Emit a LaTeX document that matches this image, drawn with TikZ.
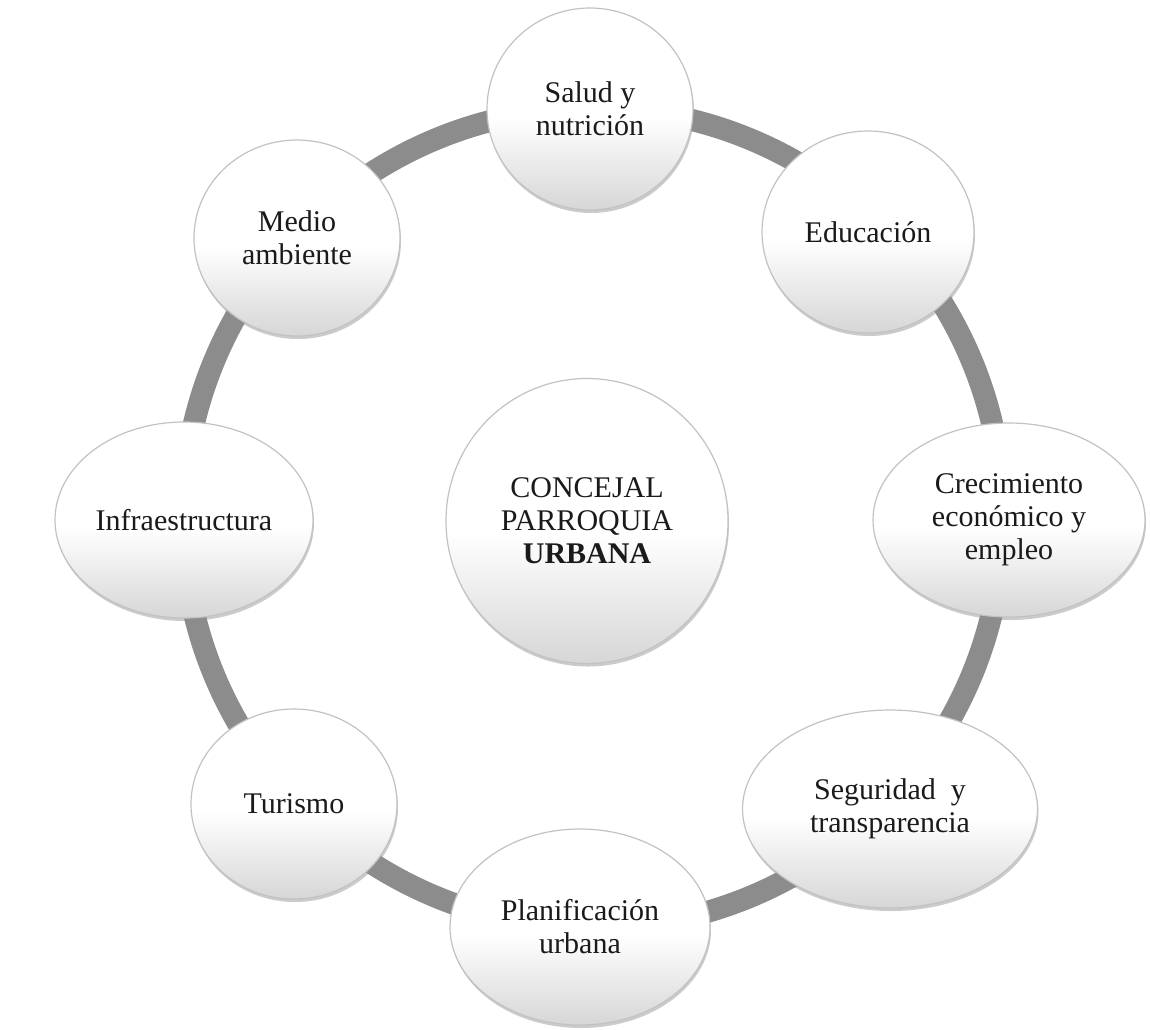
\documentclass[tikz,border=0pt]{standalone}
\usepackage{fontspec}
\setmainfont{Liberation Serif}
\usetikzlibrary{shapes.geometric,shadows}
\definecolor{ringgray}{HTML}{8C8C8C}
\definecolor{txt}{HTML}{1A1A1A}
\pgfdeclareverticalshading{bubshade}{100bp}{color(0bp)=(black!16); color(25bp)=(black!16); color(48bp)=(white); color(100bp)=(white)}
\tikzset{
  ringline/.style={draw=ringgray, line width=22pt},
  bubble/.style={ellipse, inner sep=0pt, align=center, text=txt,
    font=\fontsize{30}{33}\selectfont,
    draw=black!24, line width=1.2pt,
    shading=bubshade,
    drop shadow={shadow xshift=1pt, shadow yshift=-3pt, fill=black!45, opacity=0.45}},
}
\begin{document}
\begin{tikzpicture}[x=1pt,y=-1pt]
\useasboundingbox[fill=white] (0,0) rectangle (1150,1029);
\coordinate (ringc) at (593,518);
\draw[ringline] (ringc) circle (410pt);
\node[bubble, minimum width=206pt, minimum height=202pt] (salud) at (590,109) {Salud y\\nutrición};
\node[bubble, minimum width=212pt, minimum height=202pt] (edu) at (868,232) {Educación};
\node[bubble, minimum width=272pt, minimum height=194pt] (crec) at (1009,520) {Crecimiento\\económico y\\empleo};
\node[bubble, minimum width=295pt, minimum height=198pt] (seg) at (890,809) {Seguridad\hspace{0.25em} y\\transparencia};
\node[bubble, minimum width=260pt, minimum height=196pt] (plan) at (580,927) {Planificación\\urbana};
\node[bubble, minimum width=206pt, minimum height=190pt] (tur) at (294,804) {Turismo};
\node[bubble, minimum width=258pt, minimum height=196pt] (infra) at (184,520) {Infraestructura};
\node[bubble, minimum width=206pt, minimum height=196pt] (medio) at (297,238) {Medio\\ambiente};
\node[bubble, minimum width=282pt, minimum height=285pt] (centro) at (587,521) {CONCEJAL\\PARROQUIA\\\textbf{URBANA}};
\end{tikzpicture}
\end{document}
